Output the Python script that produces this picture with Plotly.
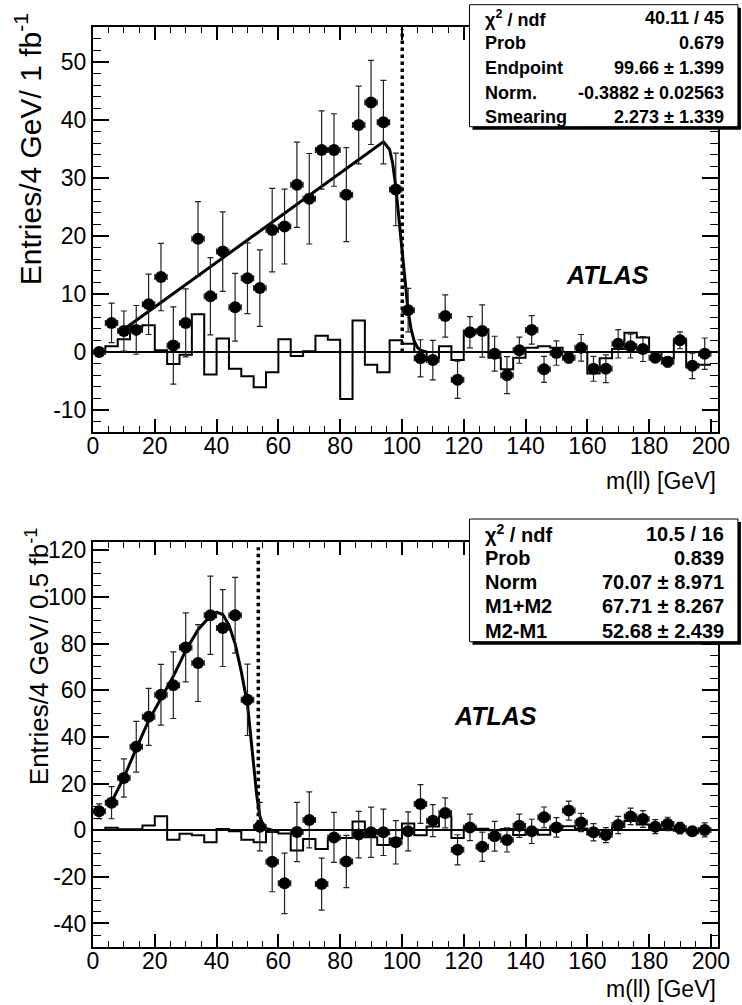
import numpy as np
import plotly.graph_objects as go

# ------------------------------------------------------------------ data
bin_width = 4
bin_centers = list(np.arange(2, 200, bin_width))          # 50 bins, 0..200 GeV
bin_edges = list(np.arange(0, 201, bin_width))

# top panel: 1 fb^-1, m(ll) flavour-subtracted
top_data = [0.0, 5.0, 3.6, 3.8, 8.2, 12.9, 1.1, 5.0, 19.5, 9.6,
            17.3, 7.7, 12.7, 11.0, 21.0, 21.6, 28.8, 26.4, 34.8, 34.8,
            27.1, 39.1, 43.0, 39.6, 28.0, 7.2, -1.1, -1.4, 6.2, -4.8,
            3.4, 3.6, -0.3, -4.0, 0.3, 3.8, -3.0, -0.2, -1.0, 0.7,
            -2.9, -2.9, 1.4, 1.0, 0.5, -1.0, -1.7, 2.0, -2.4, -0.3]
top_err = [0.0, 3.4, 3.45, 4.2, 5.2, 5.8, 6.65, 5.85, 6.4, 6.65,
           6.85, 5.85, 6.1, 6.6, 7.2, 6.45, 7.35, 7.8, 6.75, 6.25,
           8.1, 6.7, 7.25, 7.2, 6.25, 3.75, 3.2, 3.4, 3.65, 3.2,
           2.7, 4.5, 3.0, 3.2, 2.25, 2.45, 2.25, 2.1, 0.9, 2.3,
           2.15, 2.4, 2.45, 2.05, 2.15, 0.8, 0.9, 1.45, 2.2, 2.7]
top_hist = [0.0, 1.0, 2.2, 4.4, 4.6, 0.3, -2.1, -0.5, 6.5, -3.9,
            2.3, -2.9, -4.2, -6.1, -3.5, 2.2, -0.7, 0.1, 2.8, 2.1,
            -8.1, 5.4, -2.2, -3.5, 2.0, 1.4, 0.0, -1.1, 1.0, -1.4,
            3.6, 3.8, -1.0, -3.0, -1.0, 0.7, 1.0, 0.7, 0.0, 0.0,
            -3.7, -1.1, 0.5, 3.3, 2.5, 0.0, -1.1, 2.1, -2.5, -2.2]
top_fit_x = [10, 92, 94, 96, 97, 98, 99, 100, 101, 102, 103, 104, 105, 106, 108]
top_fit_y = [3.9, 35.5, 36.2, 34.9, 32.5, 28.5, 23.0, 17.5, 11.5, 7.0, 3.8, 1.8, 0.8, 0.3, 0.0]
top_endpoint_x = 100.1
top_endpoint_ymax = 55.6

# bottom panel: 0.5 fb^-1
bot_data = [8.1, 11.8, 22.4, 35.8, 48.6, 58.1, 62.2, 78.4, 71.7, 92.2,
            86.7, 92.2, 55.9, 1.5, -13.5, -22.8, -0.8, 4.4, -23.1, -3.1,
            -13.4, -1.9, -0.9, -0.9, -5.2, -0.5, 11.2, 4.1, 7.4, -8.4,
            1.2, -7.1, -2.6, -4.2, 1.9, -0.5, 5.5, 1.2, 8.4, 3.3,
            -0.9, -2.1, 2.2, 5.9, 4.8, 1.5, 2.7, 0.9, -0.5, 0.1]
bot_err = [3.15, 6.9, 8.2, 10.9, 12.2, 13.0, 14.3, 14.8, 16.5, 16.8,
           16.5, 16.25, 15.3, 10.4, 12.9, 13.0, 12.7, 12.0, 11.15, 10.7,
           11.2, 10.0, 10.75, 9.95, 9.3, 8.35, 8.3, 6.85, 6.45, 6.45,
           5.7, 6.25, 6.35, 5.15, 5.0, 5.2, 4.45, 4.15, 4.1, 3.95,
           3.7, 3.2, 3.7, 3.55, 3.6, 3.0, 2.85, 2.45, 2.0, 3.0]
bot_hist = [0.1, 1.0, 0.4, 0.4, 2.0, 6.0, -4.1, -1.5, -2.2, -5.2,
            0.5, -0.5, -4.1, -5.2, -0.8, -1.4, -8.7, -3.8, -8.1, -3.6,
            -3.4, 3.7, -3.0, -6.4, -3.6, 2.9, -2.2, 1.6, 6.0, -3.4,
            1.2, 0.6, 0.0, 0.5, -2.1, -0.5, -2.0, 1.3, 1.7, 0.7,
            -1.8, -1.7, 1.5, 3.9, 2.4, 0.3, 0.6, -0.2, 0.0, 0.0]
bot_fit_x = [5.9, 10, 14, 18, 22, 26, 30, 34, 38, 40, 42, 44, 46, 48, 50,
             51, 52, 53, 54, 55, 56, 58]
bot_fit_y = [11.8, 22.6, 35.0, 47.0, 56.5, 66.0, 77.0, 86.0, 92.0, 93.5, 92.5,
             88.0, 80.0, 68.0, 54.0, 42.0, 28.0, 15.0, 6.0, 2.3, 0.8, 0.0]
bot_endpoint_x = 53.5
bot_endpoint_ymax = 121.3

# fit statistics boxes
top_stat_labels = ["χ<sup>2</sup> / ndf", "Prob", "Endpoint", "Norm.", "Smearing"]
top_stat_values = ["40.11 / 45", "0.679", "99.66 ± 1.399", "-0.3882 ± 0.02563", "2.273 ± 1.339"]
bot_stat_labels = ["χ<sup>2</sup> / ndf", "Prob", "Norm", "M1+M2", "M2-M1"]
bot_stat_values = ["10.5 / 16", "0.839", "70.07 ± 8.971", "67.71 ± 8.267", "52.68 ± 2.439"]

x_ticks = [0, 20, 40, 60, 80, 100, 120, 140, 160, 180, 200]
top_y_ticks = [-10, 0, 10, 20, 30, 40, 50]
bot_y_ticks = [-40, -20, 0, 20, 40, 60, 80, 100, 120]

# ------------------------------------------------------------------ layout helpers
W, H = 742, 1005
ML, MR, MT, MB = 93, 22, 27, 58
PW = W - ML - MR
PH = H - MT - MB
FONT = "Liberation Sans, Arial, Helvetica, sans-serif"
TICK_SIZE = 23


def pxx(xp):
    return (xp - ML) / PW


def pxy(yp):
    return (H - MB - yp) / PH


fig = go.Figure()


def add_panel(xa, ya, data, err, hist, fx, fy, ex, eymax):
    # histogram (step)
    fig.add_trace(go.Scatter(
        x=bin_edges, y=list(hist) + [hist[-1]], mode="lines", line_shape="hv",
        line=dict(color="black", width=2), xaxis=xa, yaxis=ya, showlegend=False,
        hoverinfo="skip"))
    # fit curve
    fig.add_trace(go.Scatter(
        x=fx, y=fy, mode="lines", line=dict(color="black", width=3),
        xaxis=xa, yaxis=ya, showlegend=False, hoverinfo="skip"))
    # endpoint dotted line
    fig.add_trace(go.Scatter(
        x=[ex, ex], y=[0, eymax], mode="lines",
        line=dict(color="black", width=3.5, dash="dot"),
        xaxis=xa, yaxis=ya, showlegend=False, hoverinfo="skip"))
    # data points
    fig.add_trace(go.Scatter(
        x=bin_centers, y=data, mode="markers",
        marker=dict(color="black", size=12, symbol="circle"),
        error_y=dict(type="data", array=err, visible=True, color="#222",
                     thickness=1.2, width=3),
        error_x=dict(type="constant", value=bin_width / 2, visible=True,
                     color="#222", thickness=1.2, width=3),
        xaxis=xa, yaxis=ya, showlegend=False))


add_panel("x", "y", top_data, top_err, top_hist, top_fit_x, top_fit_y,
          top_endpoint_x, top_endpoint_ymax)
add_panel("x2", "y2", bot_data, bot_err, bot_hist, bot_fit_x, bot_fit_y,
          bot_endpoint_x, bot_endpoint_ymax)

axis_common = dict(
    showgrid=False, showline=True, linecolor="black", linewidth=2, mirror="allticks",
    ticks="inside", ticklen=13, tickwidth=1.5, tickcolor="black",
    tickfont=dict(family=FONT, size=TICK_SIZE, color="black"),
)
xcommon = dict(axis_common, range=[0, 202.3], tickvals=x_ticks,
               ticktext=[str(v) for v in x_ticks], zeroline=False,
               ticklabelstandoff=-8,
               minor=dict(dtick=5, tick0=0, ticks="inside", ticklen=6,
                          tickwidth=1.2, tickcolor="black", showgrid=False))
ycommon = dict(axis_common, ticklen=16, zeroline=True, zerolinecolor="black",
               zerolinewidth=2)

shapes = []
annotations = []


def stat_box(x0, y0, x1, y1, labels, values, row_ys, size):
    shapes.append(dict(type="rect", xref="paper", yref="paper",
                       x0=pxx(x0 + 3), x1=pxx(x1 + 3), y0=pxy(y0 + 3), y1=pxy(y1 + 3),
                       fillcolor="black", line=dict(width=0), layer="above"))
    shapes.append(dict(type="rect", xref="paper", yref="paper",
                       x0=pxx(x0), x1=pxx(x1), y0=pxy(y0), y1=pxy(y1),
                       fillcolor="white", line=dict(color="black", width=1), layer="above"))
    for lab, val, ry in zip(labels, values, row_ys):
        annotations.append(dict(xref="paper", yref="paper", x=pxx(x0 + 14), y=pxy(ry),
                                xanchor="left", yanchor="middle", showarrow=False,
                                text="<b>" + lab + "</b>",
                                font=dict(family=FONT, size=size, color="black")))
        annotations.append(dict(xref="paper", yref="paper", x=pxx(x1 - 12), y=pxy(ry),
                                xanchor="right", yanchor="middle", showarrow=False,
                                text="<b>" + val + "</b>",
                                font=dict(family=FONT, size=size, color="black")))


stat_box(470.7, 4.7, 740, 126.7, top_stat_labels, top_stat_values,
         [18.3, 43.3, 68.3, 93.3, 117.3], 18)
stat_box(470.7, 519, 740, 641.7, bot_stat_labels, bot_stat_values,
         [533.5, 557.8, 582.1, 606.4, 630.7], 20)

# ATLAS labels
for xp, yp in [(609.5, 275), (497, 716)]:
    annotations.append(dict(xref="paper", yref="paper", x=pxx(xp), y=pxy(yp),
                            xanchor="center", yanchor="middle", showarrow=False,
                            text="<b><i>ATLAS</i></b>",
                            font=dict(family=FONT, size=25, color="black")))

# axis titles
annotations.append(dict(xref="paper", yref="paper", x=pxx(28), y=pxy(149),
                        textangle=-90, showarrow=False, xanchor="center", yanchor="middle",
                        text="Entries/4 GeV/ 1 fb<sup>-1</sup>",
                        font=dict(family=FONT, size=30, color="black")))
annotations.append(dict(xref="paper", yref="paper", x=pxx(37), y=pxy(656),
                        textangle=-90, showarrow=False, xanchor="center", yanchor="middle",
                        text="Entries/4 GeV/ 0.5 fb<sup>-1</sup>",
                        font=dict(family=FONT, size=26, color="black")))
for yp in [481, 989]:
    annotations.append(dict(xref="paper", yref="paper", x=pxx(720), y=pxy(yp),
                            xanchor="right", yanchor="middle", showarrow=False,
                            text="m(ll) [GeV]",
                            font=dict(family=FONT, size=23, color="black")))

fig.update_layout(
    width=W, height=H,
    margin=dict(l=ML, r=MR, t=MT, b=MB, pad=0),
    paper_bgcolor="white", plot_bgcolor="white",
    showlegend=False,
    xaxis=dict(xcommon, anchor="y"),
    yaxis=dict(ycommon, domain=[pxy(432), pxy(27)], range=[-13.8, 56.0],
               tickvals=top_y_ticks, ticktext=[str(v) for v in top_y_ticks],
               anchor="x",
               minor=dict(dtick=2, tick0=0, ticks="inside", ticklen=8,
                          tickwidth=1.2, tickcolor="black", showgrid=False)),
    xaxis2=dict(xcommon, anchor="y2"),
    yaxis2=dict(ycommon, domain=[pxy(947), pxy(542)], range=[-50.1, 123.6],
                tickvals=bot_y_ticks, ticktext=[str(v) for v in bot_y_ticks],
                anchor="x2",
                minor=dict(dtick=5, tick0=0, ticks="inside", ticklen=8,
                           tickwidth=1.2, tickcolor="black", showgrid=False)),
    shapes=shapes,
    annotations=annotations,
)

fig.write_html("out.html", config={"displayModeBar": False},
               post_script="document.body.style.margin='0';document.body.style.padding='0';")
